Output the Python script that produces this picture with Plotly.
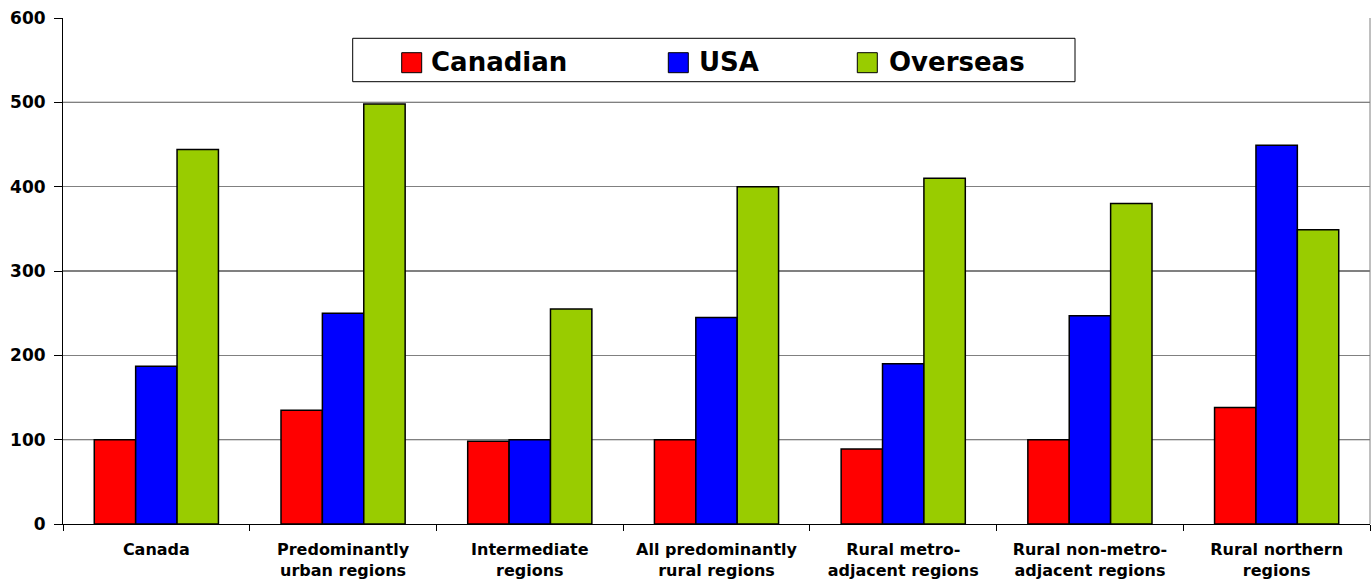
import plotly.graph_objects as go

categories = ["Canada", "Predominantly<br>urban regions", "Intermediate<br>regions",
              "All predominantly<br>rural regions", "Rural metro-<br>adjacent regions",
              "Rural non-metro-<br>adjacent regions", "Rural northern<br>regions"]
canadian = [100, 135, 98, 100, 89, 100, 138]
usa = [187, 250, 100, 245, 190, 247, 449]
overseas = [444, 498, 255, 400, 410, 380, 349]
series_names = ["Canadian", "USA", "Overseas"]
series_colors = ["#FF0000", "#0000FF", "#99CC00"]
y_ticks = [0, 100, 200, 300, 400, 500, 600]

W, H = 1372, 583
ML, MR, MT, MB = 63, 2, 18, 59
PW, PH = W - ML - MR, H - MT - MB

def px_x(x):
    return (x - ML) / PW

def px_y(y):
    return (H - MB - y) / PH

fig = go.Figure()
for name, vals, col in zip(series_names, [canadian, usa, overseas], series_colors):
    fig.add_trace(go.Bar(x=categories, y=vals, name=name, marker=dict(color=col, line=dict(color="black", width=1.5)),
                         showlegend=False))

font_b = dict(family="DejaVu Sans", weight="bold", color="black")

fig.update_layout(
    width=W, height=H,
    margin=dict(l=ML, r=MR, t=MT, b=MB, autoexpand=False),
    paper_bgcolor="white", plot_bgcolor="white",
    barmode="group", bargap=0.335, bargroupgap=0,
    xaxis=dict(type="category", tickson="boundaries", ticks="outside", ticklen=6, tickcolor="black",
               showline=True, linecolor="black", linewidth=1, showgrid=False,
               tickfont=dict(size=16, **font_b), ticklabelstandoff=11, automargin=False),
    yaxis=dict(range=[0, 600], tickvals=y_ticks, ticks="outside", ticklen=8, tickcolor="black",
               showline=True, linecolor="black", linewidth=1, gridcolor="#808080", gridwidth=1,
               zeroline=False, tickfont=dict(size=17, **font_b), ticklabelstandoff=5, automargin=False),
)

# darker gridlines at odd hundreds
for v in y_ticks:
    if v % 200 == 100:
        fig.add_shape(type="line", xref="paper", yref="y", x0=0, x1=1, y0=v, y1=v,
                      line=dict(color="black", width=1), layer="below")
# right border
fig.add_shape(type="line", xref="paper", yref="paper", x0=1, x1=1, y0=0, y1=1,
              line=dict(color="#808080", width=1))

# legend box
fig.add_shape(type="rect", xref="paper", yref="paper", x0=px_x(352.7), x1=px_x(1075), y0=px_y(81.7), y1=px_y(38.3),
              line=dict(color="black", width=1), fillcolor="white", layer="above")
sq_left = [401.7, 668.3, 857.3]
txt_left = [429, 697, 887]
for name, col, sl, tl in zip(series_names, series_colors, sq_left, txt_left):
    fig.add_shape(type="rect", xref="paper", yref="paper", x0=px_x(sl), x1=px_x(sl + 20), y0=px_y(72.7), y1=px_y(52.7),
                  line=dict(color="black", width=1), fillcolor=col, layer="above")
    fig.add_annotation(xref="paper", yref="paper", x=px_x(tl), y=px_y(62), xanchor="left", yanchor="middle",
                       text=name, showarrow=False, font=dict(size=26, **font_b))

fig.write_html("out.html")
